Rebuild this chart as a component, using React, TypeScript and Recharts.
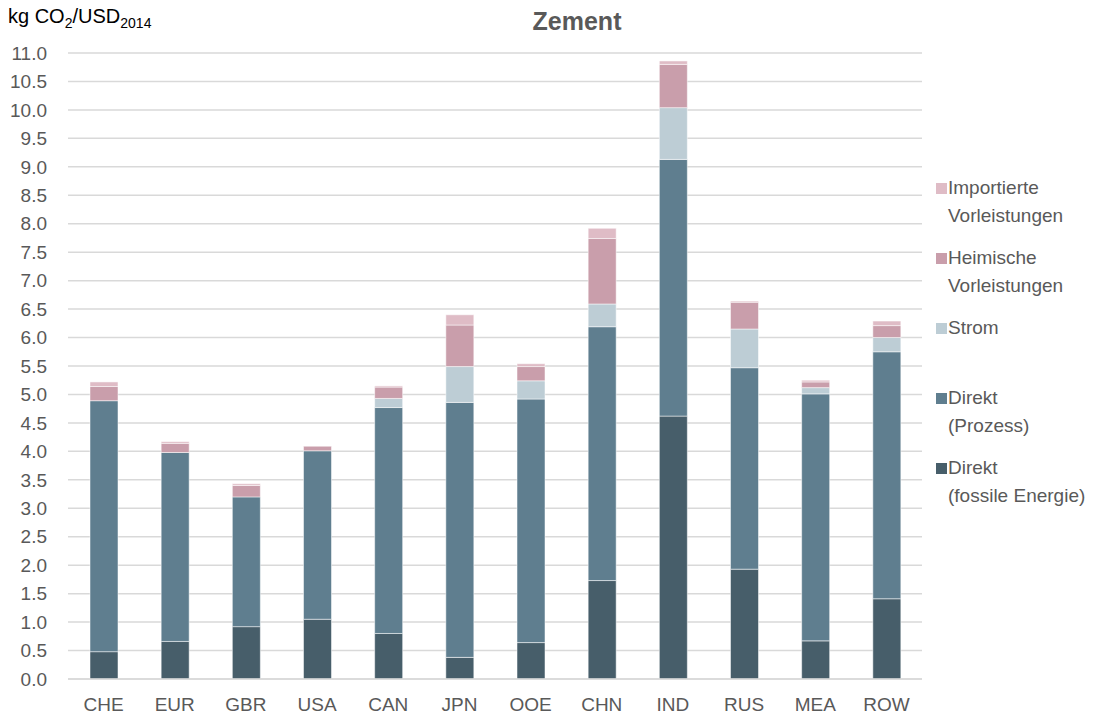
import React from "react";
import {
  BarChart,
  Bar,
  XAxis,
  YAxis,
  CartesianGrid,
  Legend,
} from "recharts";

const regions = ["CHE", "EUR", "GBR", "USA", "CAN", "JPN", "OOE", "CHN", "IND", "RUS", "MEA", "ROW"];

// kg CO2 / USD2014
const fossil = [0.48, 0.66, 0.92, 1.05, 0.8, 0.38, 0.64, 1.73, 4.62, 1.93, 0.67, 1.41];
const process = [4.41, 3.32, 2.28, 2.96, 3.97, 4.48, 4.28, 4.46, 4.51, 3.54, 4.34, 4.34];
const strom = [0, 0, 0, 0, 0.16, 0.63, 0.32, 0.4, 0.91, 0.68, 0.11, 0.25];
const domestic = [0.25, 0.16, 0.2, 0.08, 0.2, 0.73, 0.25, 1.15, 0.76, 0.47, 0.1, 0.21];
const imported = [0.08, 0.03, 0.03, 0, 0.02, 0.18, 0.05, 0.18, 0.06, 0.02, 0.03, 0.08];

const yTicks = [0, 0.5, 1, 1.5, 2, 2.5, 3, 3.5, 4, 4.5, 5, 5.5, 6, 6.5, 7, 7.5, 8, 8.5, 9, 9.5, 10, 10.5, 11];

// legend reads top to bottom, reverse of the stack
const legendOrder = ["imported", "domestic", "strom", "process", "fossil"];

const data = regions.map((r, i) => ({
  region: r,
  fossil: fossil[i],
  process: process[i],
  strom: strom[i],
  domestic: domestic[i],
  imported: imported[i],
}));

const FONT = '"Liberation Sans", Arial, sans-serif';
const GREY = "#595959";

const renderLegend = (props: any) => {
  const items = [...(props.payload || [])].sort(
    (a: any, b: any) => legendOrder.indexOf(a.dataKey) - legendOrder.indexOf(b.dataKey)
  );
  return (
    <div style={{ fontFamily: FONT, fontSize: 19, color: GREY }}>
      {items.map((it: any) => (
        <div key={it.dataKey} style={{ position: "relative", height: 70 }}>
          <span
            style={{
              position: "absolute",
              left: 0,
              top: 9,
              width: 11,
              height: 11,
              background: it.color,
            }}
          />
          <div style={{ position: "absolute", left: 12, top: 0, lineHeight: "28px", whiteSpace: "pre-line" }}>
            {it.value}
          </div>
        </div>
      ))}
    </div>
  );
};

export default function App() {
  return (
    <div style={{ position: "absolute", left: 0, top: 0, width: 1095, height: 720, background: "#fff", fontFamily: FONT }}>
      <div style={{ position: "absolute", left: 8, top: 5, fontSize: 20, color: "#000", whiteSpace: "nowrap" }}>
        kg CO<sub style={{ fontSize: 14 }}>2</sub>/USD<sub style={{ fontSize: 14 }}>2014</sub>
      </div>
      <div
        style={{
          position: "absolute",
          left: 477,
          width: 200,
          top: 7,
          textAlign: "center",
          fontSize: 25,
          fontWeight: "bold",
          color: GREY,
        }}
      >
        Zement
      </div>
      <BarChart
        width={1095}
        height={720}
        data={data}
        margin={{ top: 53, right: 173, bottom: 11, left: 0 }}
        barSize={28}
      >
        <CartesianGrid vertical={false} stroke="#d9d9d9" strokeWidth={1.5} />
        <XAxis
          dataKey="region"
          height={30}
          tickLine={false}
          axisLine={{ stroke: "#d9d9d9", strokeWidth: 1.5 }}
          tickMargin={13}
          tick={{ fill: GREY, fontSize: 19, fontFamily: FONT }}
          interval={0}
        />
        <YAxis
          width={68}
          domain={[0, 11]}
          ticks={yTicks}
          interval={0}
          tickFormatter={(v: number) => v.toFixed(1)}
          axisLine={false}
          tickLine={false}
          tickMargin={15}
          tick={{ fill: GREY, fontSize: 19, fontFamily: FONT }}
        />
        <Legend
          layout="vertical"
          align="center"
          verticalAlign="middle"
          content={renderLegend}
          wrapperStyle={{ left: 936, top: 174, width: 159, height: 350 }}
        />
        <Bar dataKey="fossil" name={"Direkt\n(fossile Energie)"} stackId="a" fill="#475e6a" stroke="#ffffff" strokeOpacity={0.5} strokeWidth={1} isAnimationActive={false} />
        <Bar dataKey="process" name={"Direkt\n(Prozess)"} stackId="a" fill="#5f7e8f" stroke="#ffffff" strokeOpacity={0.5} strokeWidth={1} isAnimationActive={false} />
        <Bar dataKey="strom" name="Strom" stackId="a" fill="#bdcdd5" stroke="#ffffff" strokeOpacity={0.5} strokeWidth={1} isAnimationActive={false} />
        <Bar dataKey="domestic" name={"Heimische\nVorleistungen"} stackId="a" fill="#c99eab" stroke="#ffffff" strokeOpacity={0.5} strokeWidth={1} isAnimationActive={false} />
        <Bar dataKey="imported" name={"Importierte\nVorleistungen"} stackId="a" fill="#dfbcc6" stroke="#ffffff" strokeOpacity={0.5} strokeWidth={1} isAnimationActive={false} />
      </BarChart>
    </div>
  );
}
